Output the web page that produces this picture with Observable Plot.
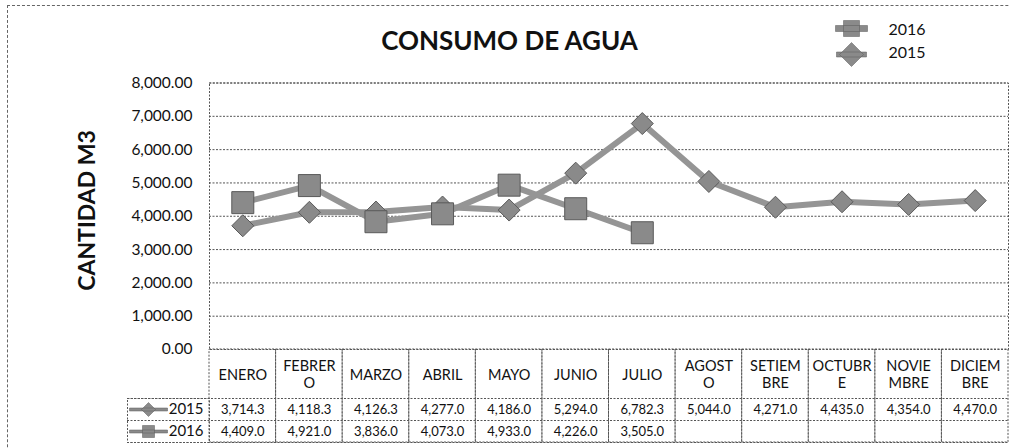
<!DOCTYPE html>
<html><head><meta charset="utf-8">
<script src="https://cdn.jsdelivr.net/npm/d3@7"></script>
<script src="https://cdn.jsdelivr.net/npm/@observablehq/plot@0.6"></script>
<style>
html,body{margin:0;padding:0;background:#fff;}
#wrap{position:relative;width:1009px;height:448px;overflow:hidden;}
#border{position:absolute;left:7px;top:5px;width:1200px;height:1200px;border-left:1px dashed #666;border-top:1px dashed #666;pointer-events:none;}
</style></head><body>
<div id="wrap"><div id="chart"></div><div id="border"></div></div>
<script>
const months = ["ENERO","FEBRERO","MARZO","ABRIL","MAYO","JUNIO","JULIO","AGOSTO","SETIEMBRE","OCTUBRE","NOVIEMBRE","DICIEMBRE"];
const monthLabels = ["ENERO","FEBRER\nO","MARZO","ABRIL","MAYO","JUNIO","JULIO","AGOST\nO","SETIEM\nBRE","OCTUBR\nE","NOVIE\nMBRE","DICIEM\nBRE"];
const values2015 = [3714.3,4118.3,4126.3,4277.0,4186.0,5294.0,6782.3,5044.0,4271.0,4435.0,4354.0,4470.0];
const values2016 = [4409.0,4921.0,3836.0,4073.0,4933.0,4226.0,3505.0];
const yTicks = [0,1000,2000,3000,4000,5000,6000,7000,8000];
const seriesNames = ["2016","2015"];
const chartTitle = "CONSUMO DE AGUA";
const yTitle = "CANTIDAD M3";

const s2015 = values2015.map((v,i)=>({month: months[i], value: v}));
const s2016 = values2016.map((v,i)=>({month: months[i], value: v}));

const W = 1009, H = 448, mL = 209, mR = 1, mT = 82.5, mB = 99;
const frameW = W - mL - mR, frameH = H - mT - mB;
const tableH = 93, headerH = 49, rowH = 22;

const lineColor = "#959595";
const markFill = "#8a8a8a";
const markStroke = "#5a5a5a";
const gridColor = "#555";
const dash = "2,1.5";

function sym(kind, half, lineHalf, lineThick) {
  return {draw(ctx) {
    if (lineHalf) {
      const t = lineThick / 2;
      ctx.moveTo(-lineHalf, -t); ctx.lineTo(lineHalf, -t); ctx.lineTo(lineHalf, t); ctx.lineTo(-lineHalf, t); ctx.closePath();
    }
    if (kind === "square") {
      ctx.moveTo(-half, -half); ctx.lineTo(half, -half); ctx.lineTo(half, half); ctx.lineTo(-half, half); ctx.closePath();
    } else {
      ctx.moveTo(0, -half); ctx.lineTo(half, 0); ctx.lineTo(0, half); ctx.lineTo(-half, 0); ctx.closePath();
    }
  }};
}

const fmt1 = d3.format(",.1f");
const fmt2 = d3.format(",.2f");
const font = "Lato, 'Open Sans', sans-serif";

const chart = Plot.plot({
  width: W, height: H,
  marginLeft: mL, marginRight: mR, marginTop: mT, marginBottom: mB,
  style: {fontFamily: font, fontSize: "13px", color: "#111", background: "#fff"},
  x: {type: "band", domain: months, padding: 0, round: false, axis: null},
  y: {domain: [0, 8000], axis: null},
  marks: [
    Plot.gridY(yTicks.filter(d => d > 0), {stroke: gridColor, strokeOpacity: 1, strokeDasharray: dash}),
    Plot.frame({stroke: gridColor, strokeDasharray: dash}),
    Plot.axisY(yTicks, {tickFormat: fmt2, tickSize: 0, tickPadding: 17, fontSize: 15.5, label: null}),
    // data table cells
    Plot.cell(months, {x: d => d, insetTop: frameH, insetBottom: -tableH, fill: "none", stroke: gridColor, strokeDasharray: dash}),
    ...[headerH, headerH + rowH, headerH + 2 * rowH].map(dy =>
      Plot.ruleY([0], {dy, insetLeft: -82, stroke: gridColor, strokeDasharray: dash})),
    Plot.frame({insetLeft: -82, insetRight: frameW, insetTop: frameH + headerH, insetBottom: -tableH, stroke: gridColor, strokeDasharray: dash}),
    Plot.text(months, {x: d => d, text: (d, i) => monthLabels[i], frameAnchor: "bottom", lineAnchor: "middle", dy: 25, fontSize: 14.5, lineHeight: 1.17}),
    Plot.text(s2015, {x: "month", text: d => fmt1(d.value), frameAnchor: "bottom", lineAnchor: "middle", dy: headerH + rowH / 2, fontSize: 13}),
    Plot.text(s2016, {x: "month", text: d => fmt1(d.value), frameAnchor: "bottom", lineAnchor: "middle", dy: headerH + rowH * 1.5, fontSize: 13}),
    Plot.text([seriesNames[1]], {text: d => d, frameAnchor: "bottom-left", lineAnchor: "middle", dx: -6, dy: headerH + rowH / 2, textAnchor: "end", fontSize: 15}),
    Plot.text([seriesNames[0]], {text: d => d, frameAnchor: "bottom-left", lineAnchor: "middle", dx: -6, dy: headerH + rowH * 1.5, textAnchor: "end", fontSize: 15}),
    Plot.dot([seriesNames[1]], {frameAnchor: "bottom-left", dx: -61, dy: headerH + rowH / 2, symbol: sym("diamond", 7, 19, 3), fill: markFill, stroke: markStroke, strokeWidth: 0.5}),
    Plot.dot([seriesNames[0]], {frameAnchor: "bottom-left", dx: -61, dy: headerH + rowH * 1.5, symbol: sym("square", 6, 19, 3), fill: markFill, stroke: markStroke, strokeWidth: 0.5}),
    // series
    Plot.line(s2015, {x: "month", y: "value", stroke: lineColor, strokeWidth: 6, strokeLinejoin: "round"}),
    Plot.dot(s2015, {x: "month", y: "value", symbol: sym("diamond", 11), fill: markFill, stroke: markStroke, strokeWidth: 1}),
    Plot.line(s2016, {x: "month", y: "value", stroke: lineColor, strokeWidth: 6, strokeLinejoin: "round"}),
    Plot.dot(s2016, {x: "month", y: "value", symbol: sym("square", 11), fill: markFill, stroke: markStroke, strokeWidth: 1}),
    // title, axis title, legend
    Plot.text([chartTitle], {text: d => d, frameAnchor: "top", lineAnchor: "middle", dx: 509 - (mL + frameW / 2), dy: 41 - mT, fontSize: 26, fontWeight: "bold"}),
    Plot.text([yTitle], {text: d => d, frameAnchor: "left", textAnchor: "middle", lineAnchor: "middle", rotate: -90, dx: 87 - mL, dy: 210 - (mT + frameH / 2), fontSize: 23, fontWeight: "bold"}),
    Plot.dot([seriesNames[0]], {frameAnchor: "top-right", dx: 851 - (W - mR), dy: 28 - mT, symbol: sym("square", 8, 16, 6), fill: markFill, stroke: markStroke, strokeWidth: 0.5}),
    Plot.dot([seriesNames[1]], {frameAnchor: "top-right", dx: 851 - (W - mR), dy: 54 - mT, symbol: sym("diamond", 12, 15, 5), fill: markFill, stroke: markStroke, strokeWidth: 0.5}),
    Plot.text([seriesNames[0]], {text: d => d, frameAnchor: "top-right", lineAnchor: "middle", dx: 888 - (W - mR), dy: 29 - mT, textAnchor: "start", fontSize: 16}),
    Plot.text([seriesNames[1]], {text: d => d, frameAnchor: "top-right", lineAnchor: "middle", dx: 888 - (W - mR), dy: 52 - mT, textAnchor: "start", fontSize: 16})
  ]
});
document.getElementById("chart").appendChild(chart);
</script>
</body></html>
